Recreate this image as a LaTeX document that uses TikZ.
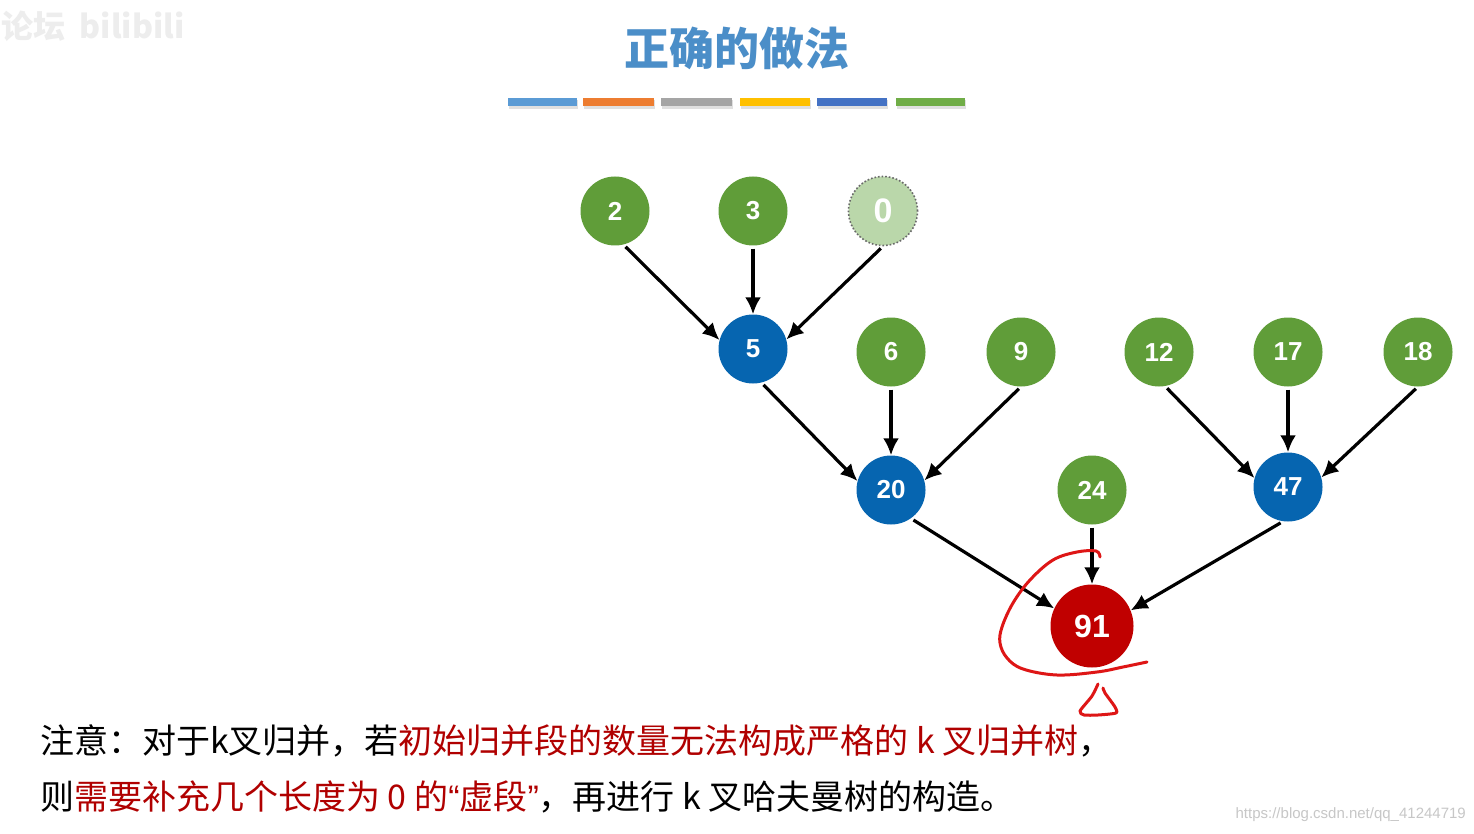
\documentclass[tikz,border=0pt]{standalone}
\usepackage{fontspec}
\setmainfont{Liberation Sans}
\newfontfamily\cjk{Noto Sans CJK SC}
\usetikzlibrary{arrows.meta}

\definecolor{leafgreen}{RGB}{96,157,57}
\definecolor{mergeblue}{RGB}{6,101,176}
\definecolor{rootred}{RGB}{192,0,0}
\definecolor{dummygreen}{RGB}{186,215,170}
\definecolor{dummyborder}{RGB}{105,105,105}
\definecolor{titleblue}{RGB}{75,142,200}
\definecolor{notered}{RGB}{176,0,0}
\definecolor{penred}{RGB}{222,22,22}
\definecolor{barA}{RGB}{91,155,213}
\definecolor{barB}{RGB}{237,125,49}
\definecolor{barC}{RGB}{165,165,165}
\definecolor{barD}{RGB}{255,192,0}
\definecolor{barE}{RGB}{68,114,196}
\definecolor{barF}{RGB}{112,173,71}

\begin{document}
\begin{tikzpicture}[x=1pt, y=-1pt,
    every node/.style={inner sep=0pt},
    leaf/.style={circle, fill=leafgreen, minimum size=69pt, text=white, font=\bfseries\fontsize{26}{26}\selectfont},
    merged/.style={leaf, fill=mergeblue},
    rootnode/.style={leaf, fill=rootred, minimum size=83pt, font=\bfseries\fontsize{32}{32}\selectfont},
    dummy/.style={leaf, fill=dummygreen, draw=dummyborder, dotted, line width=1.6pt, font=\bfseries\fontsize{34}{34}\selectfont},
    mergearrow/.style={line width=3.2pt, -{Latex[length=17pt,width=16pt]}, shorten <=3pt},
    pen/.style={draw=penred, line width=3pt, line cap=round, line join=round},
    note/.style={anchor=west, font=\cjk\fontsize{34}{34}\selectfont}]
  \useasboundingbox[fill=white] (0,0) rectangle (1474,834);

  % watermarks
  \node[anchor=west, text=black!7, font=\cjk\bfseries\fontsize{32}{32}\selectfont] (wmark) at (1,26) {论坛\ \ bilibili};%
  \node[anchor=east, text=black!22, font=\fontsize{15}{15}\selectfont] (csdn) at (1466,815) {https://blog.csdn.net/qq\_41244719};%

  % title and colour bar
  \node[text=titleblue, font=\cjk\bfseries\fontsize{45}{45}\selectfont] (title) at (737,48) {正确的做法};%
  \foreach \xa/\xb/\col in {508/577/barA, 583/654/barB, 661/732/barC, 740/810/barD, 817/887/barE, 896/965/barF}
  {
    \fill[black!12] (\xa+1,100) rectangle (\xb+1,109);%
    \fill[\col] (\xa,98) rectangle (\xb,106);%
  }

  % nodes
  \node[leaf] (n2) at (615,211) {2};%
  \node[leaf] (n3) at (753,211) {3};%
  \node[dummy] (n0) at (883,211) {0};%
  \node[merged] (n5) at (753,349) {5};%
  \node[leaf] (n6) at (891,352) {6};%
  \node[leaf] (n9) at (1021,352) {9};%
  \node[leaf] (n12) at (1159,352) {12};%
  \node[leaf] (n17) at (1288,352) {17};%
  \node[leaf] (n18) at (1418,352) {18};%
  \node[merged] (n20) at (891,490) {20};%
  \node[leaf] (n24) at (1092,490) {24};%
  \node[merged] (n47) at (1288,487) {47};%
  \node[rootnode] (n91) at (1092,626) {91};%

  % merges
  \draw[mergearrow] (n2.-76) -- (n5.165);%
  \draw[mergearrow] (n3.south) -- (n5.north);%
  \draw[mergearrow] (n0.-90) -- (n5.16);%
  \draw[mergearrow] (n5.-76) -- (n20.165);%
  \draw[mergearrow] (n6.south) -- (n20.north);%
  \draw[mergearrow] (n9.-90) -- (n20.16);%
  \draw[mergearrow] (n12.-80) -- (n47.165);%
  \draw[mergearrow] (n17.south) -- (n47.north);%
  \draw[mergearrow] (n18.-90) -- (n47.16);%
  \draw[mergearrow] (n20.-55) -- (n91.155);%
  \draw[mergearrow] (n24.south) -- (n91.north);%
  \draw[mergearrow] (n47.-98) -- (n91.22);%

  % pen marks
  \draw[pen] plot[smooth, tension=0.6] coordinates {(1100,557) (1096,551) (1077,552) (1053,560) (1030,580) (1013,603) (1002,627) (1000,643) (1007,658) (1023,669) (1057,675) (1097,672) (1123,667) (1147,662)};%
  \draw[pen] plot[smooth, tension=0.4] coordinates {(1098,684) (1092,696) (1080,711) (1084,715) (1098,715) (1116,713) (1115,707) (1105,693) (1103,688)};%

  % note
  \node[note] (line1) at (40,741) {注意：对于k叉归并，若\textcolor{notered}{初始归并段的数量无法构成严格的 k 叉归并树}，};%
  \node[note] (line2) at (40,797) {则\textcolor{notered}{需要补充几个长度为 0 的{\rmfamily “}虚段{\rmfamily ”}}，再进行 k 叉哈夫曼树的构造。};%
\end{tikzpicture}
\end{document}
